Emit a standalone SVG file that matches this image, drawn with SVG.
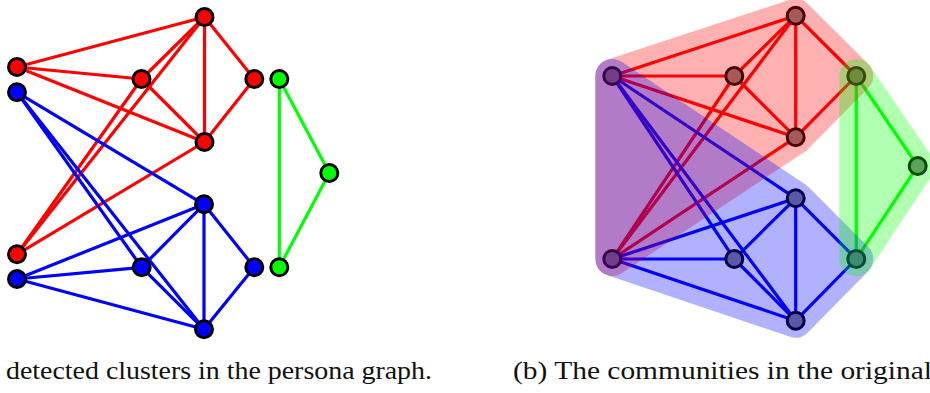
<svg xmlns="http://www.w3.org/2000/svg" width="930" height="393" viewBox="0 0 930 393">
<style>
.e{stroke-width:3.2;stroke-linecap:round;fill:none}
.r{stroke:#ff0000}.b{stroke:#0000ff}.g{stroke:#00ff00}
.n{stroke:#000;stroke-width:3}
.nr{fill:#ff0000}.nb{fill:#0000ff}.ng{fill:#00ff00}.ngr{fill:#808080}
.hull{stroke-width:34;stroke-linejoin:round;opacity:0.3}
</style>
<rect width="930" height="393" fill="#fff"/>

<!-- Left: persona graph -->
<g id="left-connectors">
<line class="e r" x1="17" y1="67" x2="204.5" y2="17"/>
<line class="e r" x1="17" y1="67" x2="141.5" y2="79"/>
<line class="e r" x1="17" y1="67" x2="204.5" y2="142"/>
<line class="e r" x1="141.5" y1="79" x2="204.5" y2="17"/>
<line class="e r" x1="141.5" y1="79" x2="204.5" y2="142"/>
<line class="e r" x1="204.5" y1="17" x2="204.5" y2="142"/>
<line class="e r" x1="204.5" y1="17" x2="254.3" y2="79"/>
<line class="e r" x1="254.3" y1="79" x2="204.5" y2="142"/>
<line class="e r" x1="17" y1="254.3" x2="204.5" y2="17"/>
<line class="e r" x1="17" y1="254.3" x2="141.5" y2="79"/>
<line class="e r" x1="17" y1="254.3" x2="204.5" y2="142"/>
<line class="e b" x1="17" y1="92.3" x2="204" y2="204.3"/>
<line class="e b" x1="17" y1="92.3" x2="141.7" y2="267.3"/>
<line class="e b" x1="17" y1="92.3" x2="204" y2="329.3"/>
<line class="e b" x1="17" y1="279" x2="204" y2="204.3"/>
<line class="e b" x1="17" y1="279" x2="141.7" y2="267.3"/>
<line class="e b" x1="17" y1="279" x2="204" y2="329.3"/>
<line class="e b" x1="141.7" y1="267.3" x2="204" y2="204.3"/>
<line class="e b" x1="141.7" y1="267.3" x2="204" y2="329.3"/>
<line class="e b" x1="204" y1="204.3" x2="204" y2="329.3"/>
<line class="e b" x1="204" y1="204.3" x2="254.3" y2="267.3"/>
<line class="e b" x1="254.3" y1="267.3" x2="204" y2="329.3"/>
<line class="e g" x1="279.3" y1="79" x2="279.3" y2="267.3"/>
<line class="e g" x1="279.3" y1="79" x2="329.3" y2="173"/>
<line class="e g" x1="329.3" y1="173" x2="279.3" y2="267.3"/>
</g>
<g id="pL-r-top"><circle class="n nr" cx="204.5" cy="17" r="8.5"/></g>
<g id="pL-r-left1"><circle class="n nr" cx="17" cy="67" r="8.5"/></g>
<g id="pL-b-left1"><circle class="n nb" cx="17" cy="92.3" r="8.5"/></g>
<g id="pL-r-mid"><circle class="n nr" cx="141.5" cy="79" r="8.5"/></g>
<g id="pL-r-right"><circle class="n nr" cx="254.3" cy="79" r="8.5"/></g>
<g id="pL-g-top"><circle class="n ng" cx="279.3" cy="79" r="8.5"/></g>
<g id="pL-r-low"><circle class="n nr" cx="204.5" cy="142" r="8.5"/></g>
<g id="pL-g-right"><circle class="n ng" cx="329.3" cy="173" r="8.5"/></g>
<g id="pL-b-top"><circle class="n nb" cx="204" cy="204.3" r="8.5"/></g>
<g id="pL-r-left2"><circle class="n nr" cx="17" cy="254.3" r="8.5"/></g>
<g id="pL-b-left2"><circle class="n nb" cx="17" cy="279" r="8.5"/></g>
<g id="pL-b-mid"><circle class="n nb" cx="141.7" cy="267.3" r="8.5"/></g>
<g id="pL-b-right"><circle class="n nb" cx="254.3" cy="267.3" r="8.5"/></g>
<g id="pL-g-bot"><circle class="n ng" cx="279.3" cy="267.3" r="8.5"/></g>
<g id="pL-b-bot"><circle class="n nb" cx="204" cy="329.3" r="8.5"/></g>

<!-- Right: original graph -->
<g id="right-connectors">
<line class="e r" x1="612.3" y1="76" x2="795.7" y2="15.7"/>
<line class="e r" x1="612.3" y1="76" x2="734.3" y2="76"/>
<line class="e r" x1="612.3" y1="76" x2="795.7" y2="137.3"/>
<line class="e r" x1="612.3" y1="259" x2="795.7" y2="15.7"/>
<line class="e r" x1="612.3" y1="259" x2="734.3" y2="76"/>
<line class="e r" x1="612.3" y1="259" x2="795.7" y2="137.3"/>
<line class="e r" x1="734.3" y1="76" x2="795.7" y2="15.7"/>
<line class="e r" x1="734.3" y1="76" x2="795.7" y2="137.3"/>
<line class="e r" x1="795.7" y1="15.7" x2="795.7" y2="137.3"/>
<line class="e r" x1="795.7" y1="15.7" x2="856.3" y2="76"/>
<line class="e r" x1="856.3" y1="76" x2="795.7" y2="137.3"/>
<line class="e b" x1="612.3" y1="76" x2="795.7" y2="198.3"/>
<line class="e b" x1="612.3" y1="76" x2="734.3" y2="259"/>
<line class="e b" x1="612.3" y1="76" x2="795.7" y2="320.7"/>
<line class="e b" x1="612.3" y1="259" x2="795.7" y2="198.3"/>
<line class="e b" x1="612.3" y1="259" x2="734.3" y2="259"/>
<line class="e b" x1="612.3" y1="259" x2="795.7" y2="320.7"/>
<line class="e b" x1="734.3" y1="259" x2="795.7" y2="198.3"/>
<line class="e b" x1="734.3" y1="259" x2="795.7" y2="320.7"/>
<line class="e b" x1="795.7" y1="198.3" x2="795.7" y2="320.7"/>
<line class="e b" x1="795.7" y1="198.3" x2="856.3" y2="259"/>
<line class="e b" x1="856.3" y1="259" x2="795.7" y2="320.7"/>
<line class="e g" x1="856.3" y1="76" x2="856.3" y2="259"/>
<line class="e g" x1="856.3" y1="76" x2="917.7" y2="166"/>
<line class="e g" x1="917.7" y1="166" x2="856.3" y2="259"/>
</g>
<g id="pR-top"><circle class="n ngr" cx="795.7" cy="15.7" r="8.5"/></g>
<g id="pR-left1"><circle class="n ngr" cx="612.3" cy="76" r="8.5"/></g>
<g id="pR-mid"><circle class="n ngr" cx="734.3" cy="76" r="8.5"/></g>
<g id="pR-gtop"><circle class="n ngr" cx="856.3" cy="76" r="8.5"/></g>
<g id="pR-low"><circle class="n ngr" cx="795.7" cy="137.3" r="8.5"/></g>
<g id="pR-gright"><circle class="n ngr" cx="917.7" cy="166" r="8.5"/></g>
<g id="pR-btop"><circle class="n ngr" cx="795.7" cy="198.3" r="8.5"/></g>
<g id="pR-left2"><circle class="n ngr" cx="612.3" cy="259" r="8.5"/></g>
<g id="pR-bmid"><circle class="n ngr" cx="734.3" cy="259" r="8.5"/></g>
<g id="pR-gbot"><circle class="n ngr" cx="856.3" cy="259" r="8.5"/></g>
<g id="pR-bbot"><circle class="n ngr" cx="795.7" cy="320.7" r="8.5"/></g>

<g id="hulls">
<polygon class="hull" fill="#ff0000" stroke="#ff0000" points="612.3,76 795.7,15.7 856.3,76 795.7,137.3 612.3,259"/>
<polygon class="hull" fill="#0000ff" stroke="#0000ff" points="612.3,76 795.7,198.3 856.3,259 795.7,320.7 612.3,259"/>
<polygon class="hull" fill="#00ff00" stroke="#00ff00" points="856.3,76 917.7,166 856.3,259"/>
</g>

<text font-family="'Liberation Serif', 'Times New Roman', serif" font-size="25" fill="#111" x="6" y="379" textLength="426" lengthAdjust="spacingAndGlyphs">detected clusters in the persona graph.</text>
<text font-family="'Liberation Serif', 'Times New Roman', serif" font-size="25" fill="#111" x="513" y="379" textLength="419" lengthAdjust="spacingAndGlyphs">(b) The communities in the original</text>
</svg>
